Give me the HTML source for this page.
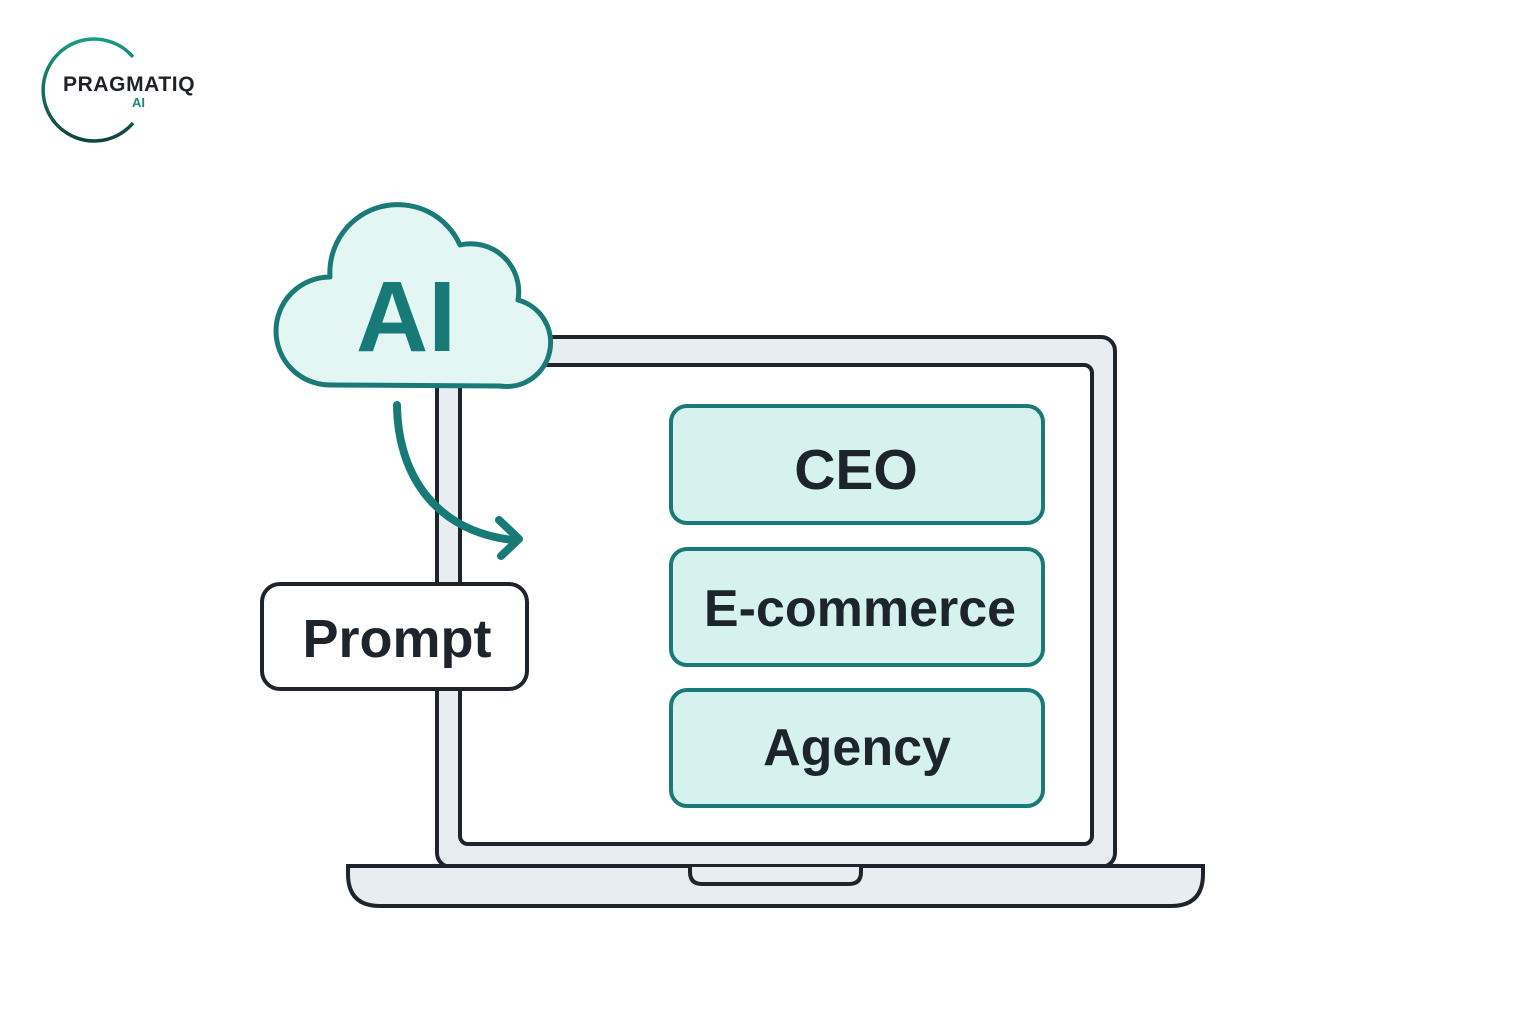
<!DOCTYPE html>
<html><head><meta charset="utf-8"><style>
html,body{margin:0;padding:0;background:#fff}
svg{display:block}
text{font-family:"Liberation Sans",sans-serif;font-weight:bold}
</style></head><body>
<svg width="1536" height="1024" viewBox="0 0 1536 1024" xmlns="http://www.w3.org/2000/svg">
<defs><linearGradient id="g" x1="0" y1="0" x2="0" y2="1"><stop offset="0" stop-color="#1a9a84"/><stop offset="1" stop-color="#10453f"/></linearGradient></defs>
<!-- logo -->
<path d="M133 57 A51 51 0 1 0 133 123" fill="none" stroke="url(#g)" stroke-width="3.5"/>
<text x="63" y="91" font-size="21" fill="#1d2228" letter-spacing="0.6">PRAGMATIQ</text>
<text x="132" y="107" font-size="13" fill="#1a8a78">AI</text>
<!-- laptop lid -->
<rect x="437" y="337" width="678" height="530" rx="14" fill="#e8edf1" stroke="#1d242c" stroke-width="4"/>
<rect x="460" y="365" width="632" height="479" rx="8" fill="#fff" stroke="#1d242c" stroke-width="4"/>
<!-- base -->
<path d="M348 866 H1203 V874 Q1203 906 1171 906 H380 Q348 906 348 874 Z" fill="#e8edf1" stroke="#1d242c" stroke-width="4"/>
<path d="M690 867 V872 Q690 884 702 884 H849 Q861 884 861 872 V867" fill="#e8edf1" stroke="#1d242c" stroke-width="4"/>
<!-- cloud -->
<path d="M330 385 A54 54 0 0 1 330 277 A68 68 0 0 1 460 245 A48 48 0 0 1 518 300 A44 44 0 0 1 500 386 Z" fill="#e3f6f4" stroke="#1a7a78" stroke-width="5" stroke-linejoin="round"/>
<text x="406" y="351" font-size="100" fill="#177a76" text-anchor="middle">AI</text>
<!-- arrow -->
<path d="M397 405 C398 480 440 532 513 540" fill="none" stroke="#177a76" stroke-width="8" stroke-linecap="round"/>
<path d="M499 520 L519 539 L501 556" fill="none" stroke="#177a76" stroke-width="8" stroke-linecap="round" stroke-linejoin="round"/>
<!-- prompt -->
<rect x="262" y="584" width="265" height="105" rx="18" fill="#fff" stroke="#1d242c" stroke-width="4"/>
<text x="397" y="657" font-size="54" fill="#1d242c" text-anchor="middle">Prompt</text>
<!-- boxes -->
<rect x="671" y="406" width="372" height="117" rx="16" fill="#d6f2ee" stroke="#1a7a78" stroke-width="4"/>
<text x="856" y="489" font-size="57" fill="#1d242c" text-anchor="middle">CEO</text>
<rect x="671" y="549" width="372" height="116" rx="16" fill="#d6f2ee" stroke="#1a7a78" stroke-width="4"/>
<text x="860" y="626" font-size="52" fill="#1d242c" text-anchor="middle">E-commerce</text>
<rect x="671" y="690" width="372" height="116" rx="16" fill="#d6f2ee" stroke="#1a7a78" stroke-width="4"/>
<text x="857" y="765" font-size="52" fill="#1d242c" text-anchor="middle">Agency</text>
</svg>
</body></html>
